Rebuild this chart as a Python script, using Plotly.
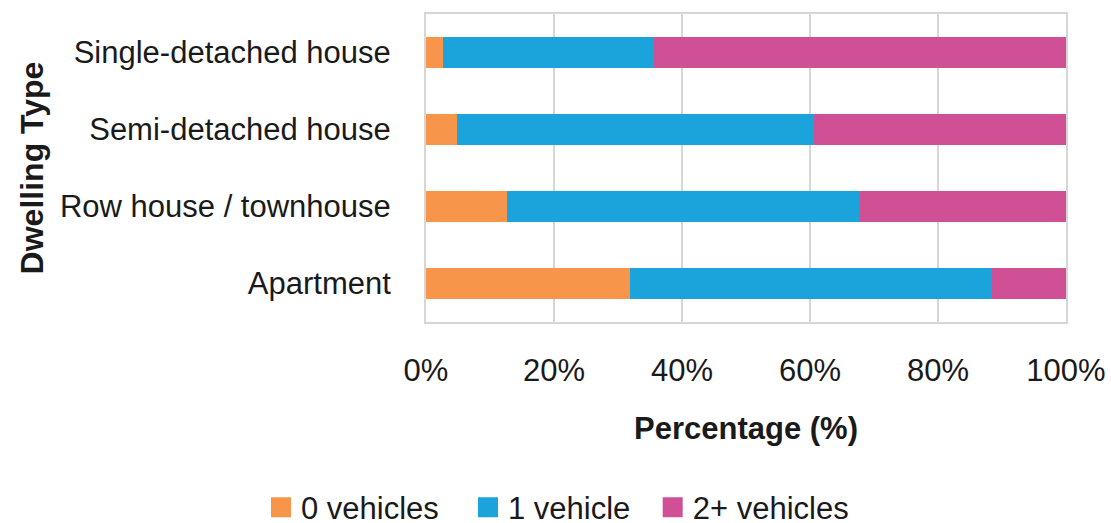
import plotly.graph_objects as go

# Dwelling types, listed bottom to top
dwelling_types = ["Apartment", "Row house / townhouse", "Semi-detached house", "Single-detached house"]

# Share of households by number of vehicles (%)
zero_vehicles = [31.8, 12.6, 4.8, 2.6]
one_vehicle = [56.7, 55.0, 55.9, 33.0]
two_plus_vehicles = [11.5, 32.4, 39.3, 64.4]

x_ticks = [0, 20, 40, 60, 80, 100]
x_tick_labels = ["0%", "20%", "40%", "60%", "80%", "100%"]

FONT = "Liberation Sans, Arial, sans-serif"
TEXT = "#1a1a1a"
GRID = "#d6d6d6"

series = [
    ("0 vehicles", zero_vehicles, "#F7964A"),
    ("1 vehicle", one_vehicle, "#1BA3DC"),
    ("2+ vehicles", two_plus_vehicles, "#D05096"),
]

fig = go.Figure()
for name, vals, color in series:
    fig.add_trace(go.Bar(
        y=dwelling_types, x=vals, name=name, orientation="h",
        marker=dict(color=color, line=dict(width=0)),
        showlegend=False,
    ))

# One legend box per series so each entry sits at its own spot along the bottom
legend_ids = ["legend", "legend2", "legend3"]
legend_x = [-0.2578, 0.0656, 0.3542]
for (name, _, color), lid in zip(series, legend_ids):
    fig.add_trace(go.Scatter(
        x=[None], y=[None], mode="markers", name=name,
        marker=dict(symbol="square", size=16, color=color, line=dict(color=color, width=4)),
        showlegend=True, hoverinfo="skip", legend=lid,
    ))

legend_style = dict(
    orientation="h", y=-0.603, yanchor="middle", xanchor="left",
    font=dict(size=31, color=TEXT), itemwidth=30, bgcolor="rgba(0,0,0,0)",
)

fig.update_layout(
    barmode="stack",
    bargap=0.6,
    width=1111, height=523,
    margin=dict(l=426, r=45, t=14, b=201, autoexpand=False),
    paper_bgcolor="white", plot_bgcolor="white",
    font=dict(family=FONT, size=31, color=TEXT),
    showlegend=True,
    legend=dict(x=legend_x[0], **legend_style),
    legend2=dict(x=legend_x[1], **legend_style),
    legend3=dict(x=legend_x[2], **legend_style),
    xaxis=dict(
        range=[0, 100], tickvals=x_ticks, ticktext=x_tick_labels,
        showgrid=True, gridcolor=GRID, gridwidth=2,
        zeroline=False, showline=True, linecolor=GRID, linewidth=2, mirror=True,
        tickfont=dict(size=31, color=TEXT), ticks="", ticklabelstandoff=20,
        title=dict(text="<b>Percentage (%)</b>", font=dict(size=31, color=TEXT), standoff=30),
        fixedrange=True, automargin=False,
    ),
    yaxis=dict(
        showgrid=False, zeroline=False, showline=True, linecolor=GRID, linewidth=2, mirror=True,
        tickfont=dict(size=31, color=TEXT), ticks="", ticklabelstandoff=27,
        title=dict(text="<b>Dwelling Type</b>", font=dict(size=32, color=TEXT), standoff=7),
        fixedrange=True, automargin=False,
    ),
)

fig.write_html("out.html", config={"displayModeBar": False})
